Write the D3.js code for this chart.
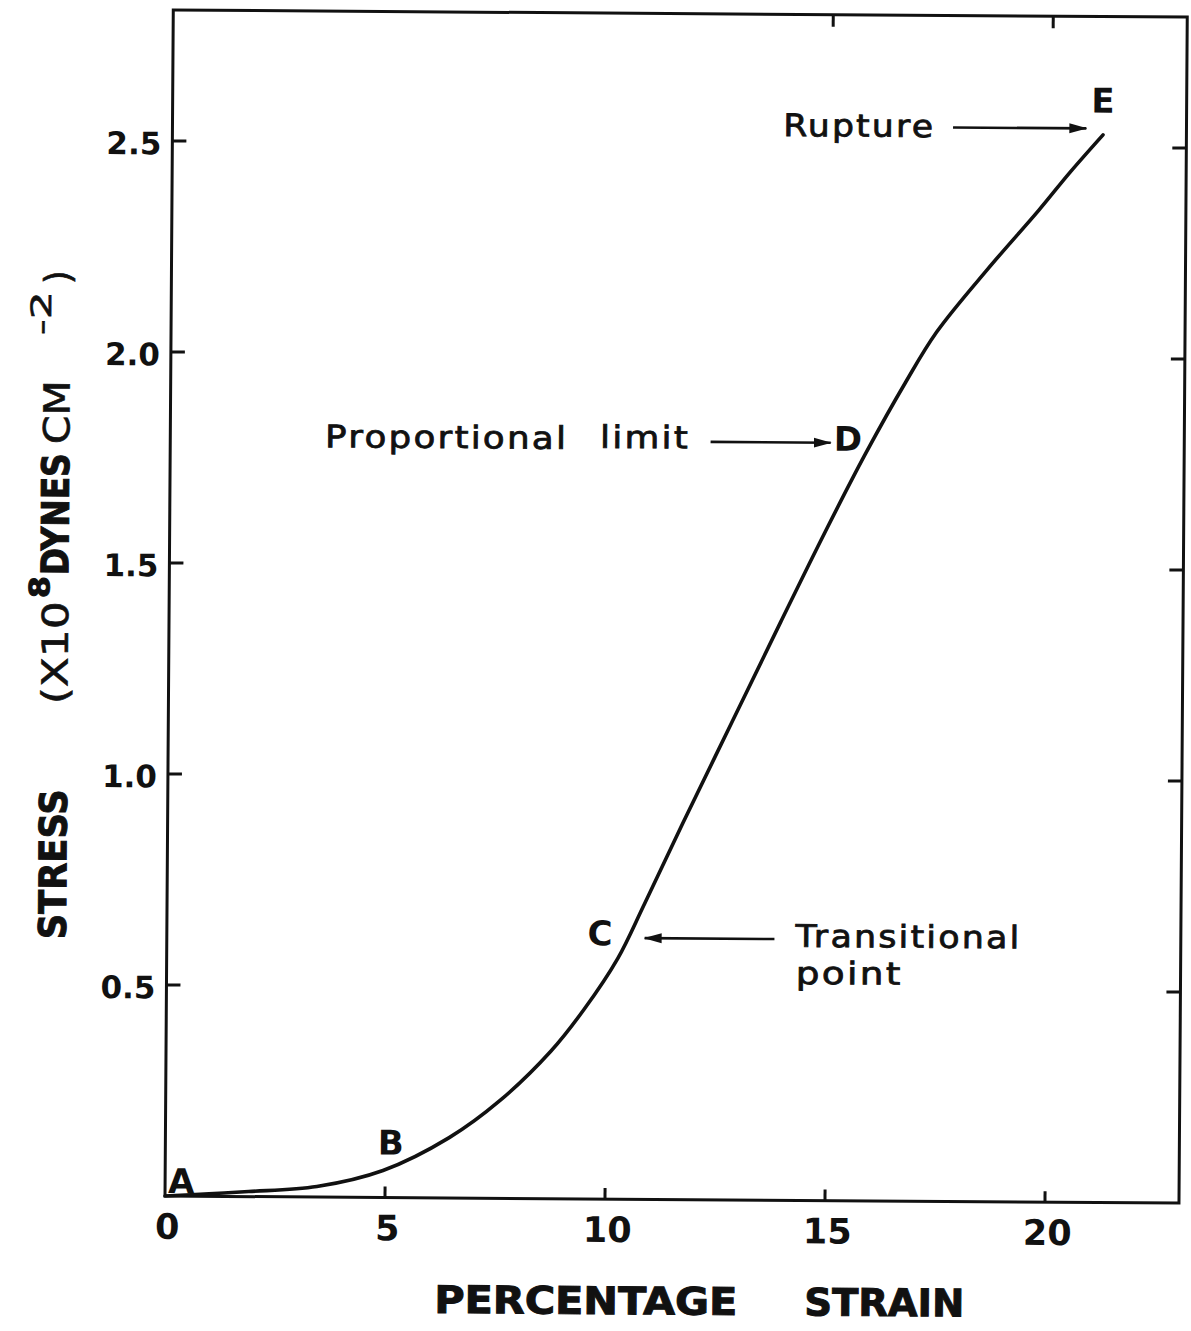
<!DOCTYPE html>
<html>
<head>
<meta charset="utf-8">
<script src="https://cdn.jsdelivr.net/npm/d3@7"></script>
<style>
  html, body { margin: 0; padding: 0; background: #fff; }
  svg { display: block; }
  text { font-family: "DejaVu Sans", sans-serif; fill: #111; }
</style>
</head>
<body>
<svg id="chart" width="1191" height="1331"></svg>
<script>
// Stress–strain curve, A (origin) to E (rupture)
const strain = [0, 1, 1.9, 3.45, 4.95, 6.45, 7.6, 8.75, 9.5, 10.25, 10.85, 11.7, 12.8, 13.9, 14.9, 15.8, 16.7, 17.4, 18.55, 19.7, 20.4, 21.15];
const stress = [0, 0.006, 0.012, 0.025, 0.064, 0.143, 0.232, 0.35, 0.45, 0.57, 0.70, 0.89, 1.13, 1.37, 1.585, 1.77, 1.94, 2.06, 2.21, 2.35, 2.44, 2.53];

// Axis ticks
const xTickValues = [0, 5, 10, 15, 20];
const xTickLabels = ["0", "5", "10", "15", "20"];
const yTickValues = [0.5, 1.0, 1.5, 2.0, 2.5];
const yTickLabels = ["0.5", "1.0", "1.5", "2.0", "2.5"];
const topTickValues = [15, 20];

// Lettered points along the curve (label anchor in data units)
const pointLetters = ["A", "B", "C", "D", "E"];
const pointLetterX = [0.07, 4.83, 9.56, 15.08, 20.88];
const pointLetterY = [0.007, 0.102, 0.601, 1.777, 2.583];

// Annotation words (anchor in data units)
const noteWords = ["Rupture", "Proportional", "limit", "Transitional", "point"];
const noteX = [13.88, 3.52, 9.77, 14.29, 14.30];
const noteY = [2.522, 1.777, 1.780, 0.601, 0.513];

// Annotation arrows: start -> tip, in data units
const arrowX0 = [17.74, 12.28, 13.81];
const arrowX1 = [20.77, 15.01, 10.86];
const arrowY = [2.545, 1.796, 0.619];

// ---- layout ----
const origin = { x: 165, y: 1196 };
const W = 1014, H = 1186;
const tilt = 0.4;
const ink = "#111";

const svg = d3.select("#chart");
svg.append("rect").attr("width", 1191).attr("height", 1331).attr("fill", "#fff");

const defs = svg.append("defs");
defs.append("marker")
  .attr("id", "head")
  .attr("viewBox", "0 0 18 12")
  .attr("refX", 17).attr("refY", 6)
  .attr("markerWidth", 18).attr("markerHeight", 12)
  .attr("markerUnits", "userSpaceOnUse")
  .attr("orient", "auto")
  .append("path").attr("d", "M0,1 L18,6 L0,11 Z").attr("fill", ink);

const scene = svg.append("g").attr("transform", `rotate(${tilt},${origin.x},${origin.y})`);
const plot = scene.append("g").attr("transform", `translate(${origin.x},${origin.y - H})`);

const x = d3.scaleLinear().domain([0, W / 44]).range([0, W]);
const y = d3.scaleLinear().domain([0, H / 422]).range([H, 0]);

// frame
plot.append("rect")
  .attr("x", 0).attr("y", 0).attr("width", W).attr("height", H)
  .attr("fill", "none").attr("stroke", ink).attr("stroke-width", 3);

// inward tick marks on all four sides
const ticks = plot.append("g").attr("stroke", ink).attr("stroke-width", 3);
ticks.selectAll("line.yl").data(yTickValues).enter().append("line")
  .attr("x1", 0).attr("x2", 14).attr("y1", d => y(d)).attr("y2", d => y(d));
ticks.selectAll("line.yr").data(yTickValues).enter().append("line")
  .attr("x1", W).attr("x2", W - 14).attr("y1", d => y(d)).attr("y2", d => y(d));
ticks.selectAll("line.xb").data(xTickValues.filter(d => d > 0)).enter().append("line")
  .attr("x1", d => x(d)).attr("x2", d => x(d)).attr("y1", H).attr("y2", H - 11);
ticks.selectAll("line.xt").data(topTickValues).enter().append("line")
  .attr("x1", d => x(d)).attr("x2", d => x(d)).attr("y1", 0).attr("y2", 12);

// tick labels
const yAxis = plot.append("g")
  .call(d3.axisLeft(y).tickValues(yTickValues)
    .tickFormat((d, i) => yTickLabels[i])
    .tickSize(0).tickPadding(11));
yAxis.select(".domain").remove();
yAxis.selectAll("line").remove();
yAxis.selectAll("text")
  .attr("font-family", "DejaVu Sans").attr("font-weight", "bold")
  .attr("font-size", 31).attr("fill", ink).attr("dy", "0.42em");

const xAxis = plot.append("g").attr("transform", `translate(0,${H})`)
  .call(d3.axisBottom(x).tickValues(xTickValues)
    .tickFormat((d, i) => xTickLabels[i])
    .tickSize(0).tickPadding(18));
xAxis.select(".domain").remove();
xAxis.selectAll("line").remove();
xAxis.selectAll("text")
  .attr("font-family", "DejaVu Sans").attr("font-weight", "bold")
  .attr("font-size", 35).attr("fill", ink).attr("dx", 2);

// curve
const pts = strain.map((s, i) => [s, stress[i]]);
plot.append("path")
  .datum(pts)
  .attr("fill", "none").attr("stroke", ink).attr("stroke-width", 3.6)
  .attr("stroke-linejoin", "round").attr("stroke-linecap", "round")
  .attr("d", d3.line().x(d => x(d[0])).y(d => y(d[1])).curve(d3.curveCatmullRom.alpha(0.5)));

// point letters
plot.selectAll("text.letter")
  .data(pointLetters).enter().append("text")
  .attr("class", "letter")
  .attr("x", (d, i) => x(pointLetterX[i]))
  .attr("y", (d, i) => y(pointLetterY[i]))
  .attr("font-size", 34).attr("font-weight", "bold")
  .text(d => d);

// annotation words
const noteLen = [152, 243, 90, 226, 107];
plot.selectAll("text.note")
  .data(noteWords).enter().append("text")
  .attr("class", "note")
  .attr("x", (d, i) => x(noteX[i]))
  .attr("y", (d, i) => y(noteY[i]))
  .attr("font-size", 31)
  .attr("letter-spacing", 2)
  .attr("stroke", ink).attr("stroke-width", 0.8)
  .attr("textLength", (d, i) => noteLen[i])
  .attr("lengthAdjust", "spacingAndGlyphs")
  .text(d => d);

// arrows
plot.selectAll("line.arrow")
  .data(arrowX0).enter().append("line")
  .attr("class", "arrow")
  .attr("x1", (d, i) => x(arrowX0[i])).attr("y1", (d, i) => y(arrowY[i]))
  .attr("x2", (d, i) => x(arrowX1[i])).attr("y2", (d, i) => y(arrowY[i]))
  .attr("stroke", ink).attr("stroke-width", 2.6)
  .attr("marker-end", "url(#head)");

// x axis title
const xTitle = scene.append("g").attr("font-weight", "bold").attr("font-size", 38);
xTitle.append("text").attr("x", 435).attr("y", 1311)
  .attr("textLength", 303).attr("lengthAdjust", "spacingAndGlyphs")
  .attr("stroke", ink).attr("stroke-width", 1).text("PERCENTAGE");
xTitle.append("text").attr("x", 805).attr("y", 1311)
  .attr("textLength", 160).attr("lengthAdjust", "spacingAndGlyphs")
  .attr("stroke", ink).attr("stroke-width", 1).text("STRAIN");

// y axis title, reading bottom to top
const yTitle = scene.append("g").attr("transform", "translate(64,0) rotate(-90)");
const yParts = [
  { t: "STRESS", at: 940, len: 150, w: "bold", fs: 38, up: 0 },
  { t: "(X10", at: 705, len: 103, w: "normal", fs: 36, up: 0 },
  { t: "8", at: 599, len: 22, w: "bold", fs: 28, up: 19 },
  { t: "DYNES", at: 576, len: 122, w: "bold", fs: 38, up: 0 },
  { t: "CM", at: 445, len: 64, w: "normal", fs: 36, up: 0 },
  { t: "-2", at: 336, len: 44, w: "normal", fs: 28, up: 19 },
  { t: ")", at: 285, len: 14, w: "normal", fs: 36, up: 0 }
];
yTitle.selectAll("text").data(yParts).enter().append("text")
  .attr("x", d => -d.at).attr("y", d => -d.up)
  .attr("font-size", d => d.fs).attr("font-weight", d => d.w)
  .attr("textLength", d => d.len).attr("lengthAdjust", "spacingAndGlyphs")
  .attr("stroke", ink).attr("stroke-width", d => d.w === "bold" ? 1 : 0.6)
  .text(d => d.t);
</script>
</body>
</html>
